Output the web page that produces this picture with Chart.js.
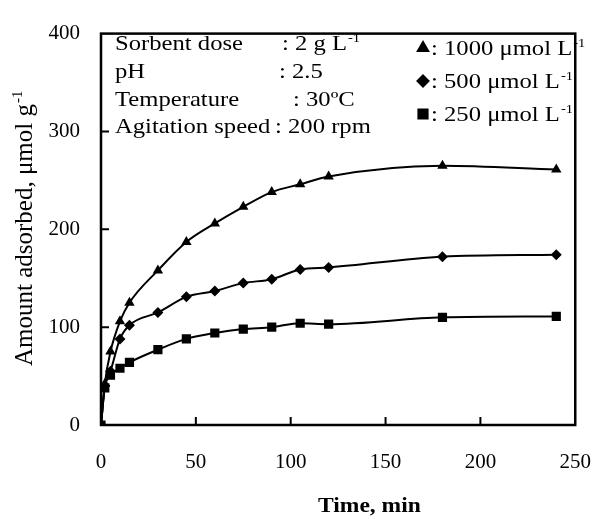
<!DOCTYPE html>
<html>
<head>
<meta charset="UTF-8">
<script src="https://cdn.jsdelivr.net/npm/chart.js"></script>
<style>
  html, body { margin: 0; padding: 0; background: #fff; }
  #wrap { width: 616px; height: 519px; }
</style>
</head>
<body>
<div id="wrap"><canvas id="myChart" width="616" height="519"></canvas></div>
<script>
// contact time, min
var time_min = [0, 2, 5, 10, 15, 30, 45, 60, 75, 90, 105, 120, 180, 240];
// amount adsorbed, umol/g, for each initial concentration
var conc_1000 = [0, 42, 75, 106, 125, 158, 187, 206, 223, 238, 246, 254, 265, 261];
var conc_500 = [0, 40, 55, 88, 102, 115, 131, 137, 145, 149, 159, 161, 172, 174];
var conc_250 = [0, 38, 51, 58, 64, 77, 88, 94, 98, 100, 104, 103, 110, 111];

var x_ticks = [0, 50, 100, 150, 200, 250];
var y_ticks = [0, 100, 200, 300, 400];

var cond_names = ["Sorbent dose", "pH", "Temperature", "Agitation speed"];
var cond_values = ["2 g L", "2.5", "30\u00BAC", "200 rpm"];
var cond_sups = ["-1", "", "", ""];
var series_labels = ["1000 \u03BCmol L", "500 \u03BCmol L", "250 \u03BCmol L"];
var series_markers = ["triangle", "rectRot", "rect"];

var SERIF = "'Liberation Serif', 'Times New Roman', serif";
var STRETCH = 1.12;

function toPoints(ys) {
  var pts = [];
  for (var i = 0; i < time_min.length; i++) {
    pts.push({ x: time_min[i], y: ys[i] });
  }
  return pts;
}

// draws text widened a little, returns x where it ends
function wideText(ctx, txt, x, y, font) {
  ctx.save();
  ctx.font = font;
  ctx.translate(x, y);
  ctx.scale(STRETCH, 1);
  ctx.fillText(txt, 0, 0);
  var w = ctx.measureText(txt).width * STRETCH;
  ctx.restore();
  return x + w;
}

function textWithSup(ctx, txt, sup, x, y, size, bold) {
  var f = (bold ? "bold " : "") + size + "px " + SERIF;
  var end = wideText(ctx, txt, x, y, f);
  if (sup) {
    var fs = Math.round(size * 0.6) + "px " + SERIF;
    end = wideText(ctx, sup, end + 1, y - size * 0.38, fs);
  }
  return end;
}

var markerRadius = { triangle: 6, rectRot: 5.5, rect: 6.5 };

var framePlugin = {
  id: "frame",
  afterDraw: function(chart) {
    var ctx = chart.ctx;
    var a = chart.chartArea;
    var xs = chart.scales.x, ys = chart.scales.y;
    ctx.save();
    ctx.strokeStyle = "#000";
    ctx.fillStyle = "#000";
    ctx.lineWidth = 2.5;
    ctx.strokeRect(a.left, a.top, a.right - a.left, a.bottom - a.top);

    // inward tick marks
    ctx.lineWidth = 2;
    ctx.beginPath();
    for (var i = 1; i < x_ticks.length - 1; i++) {
      var px = xs.getPixelForValue(x_ticks[i]);
      ctx.moveTo(px, a.bottom);
      ctx.lineTo(px, a.bottom - 8);
    }
    for (var j = 1; j < y_ticks.length - 1; j++) {
      var py = ys.getPixelForValue(y_ticks[j]);
      ctx.moveTo(a.left, py);
      ctx.lineTo(a.left + 8, py);
    }
    ctx.stroke();

    // experimental conditions
    ctx.textBaseline = "alphabetic";
    ctx.textAlign = "left";
    var rowY = [50, 78, 106, 133];
    var colonX = [282, 279, 293, 275];
    for (var k = 0; k < cond_names.length; k++) {
      wideText(ctx, cond_names[k], 115, rowY[k], "22px " + SERIF);
      textWithSup(ctx, ": " + cond_values[k], cond_sups[k], colonX[k], rowY[k], 22, false);
    }

    // series key
    var keyY = [55, 88, 121];
    for (var m = 0; m < series_labels.length; m++) {
      Chart.helpers.drawPoint(ctx, {
        pointStyle: series_markers[m],
        radius: markerRadius[series_markers[m]],
        rotation: 0,
        borderWidth: 1
      }, 423, keyY[m] - 7);
      ctx.fill();
      textWithSup(ctx, ": " + series_labels[m], "-1", 431, keyY[m], 22, false);
    }

    // axis titles
    textWithSup(ctx, "Time, min", "", 318, 512, 21, true);
    var yTitle = "Amount adsorbed, \u03BCmol g";
    ctx.font = "25px " + SERIF;
    var tw = ctx.measureText(yTitle).width;
    ctx.save();
    ctx.translate(32, 230 + (tw + 10) / 2);
    ctx.rotate(-Math.PI / 2);
    ctx.fillText(yTitle, 0, 0);
    ctx.font = "15px " + SERIF;
    ctx.fillText("-1", tw + 1, -10);
    ctx.restore();
    ctx.restore();
  }
};

function makeSet(label, ys, style) {
  return {
    label: label,
    data: toPoints(ys),
    showLine: true,
    borderColor: "#000",
    backgroundColor: "#000",
    borderWidth: 2,
    pointStyle: style,
    pointRadius: markerRadius[style],
    pointBorderWidth: 0,
    cubicInterpolationMode: "monotone",
    fill: false
  };
}

var config = {
  type: "scatter",
  data: {
    datasets: [
      makeSet(series_labels[0], conc_1000, "triangle"),
      makeSet(series_labels[1], conc_500, "rectRot"),
      makeSet(series_labels[2], conc_250, "rect")
    ]
  },
  options: {
    responsive: false,
    animation: false,
    events: [],
    layout: { padding: { left: 0, right: 19, top: 22, bottom: 0 } },
    plugins: { legend: { display: false }, tooltip: { enabled: false } },
    scales: {
      x: {
        type: "linear",
        min: 0, max: 250,
        afterFit: function(s) { s.height = 94; },
        afterBuildTicks: function(s) { s.ticks = x_ticks.map(function(v) { return { value: v }; }); },
        grid: { display: false, drawTicks: false },
        border: { display: false },
        ticks: { color: "#000", padding: 25, font: { family: SERIF, size: 21 } }
      },
      y: {
        type: "linear",
        min: 0, max: 400,
        afterFit: function(s) { s.width = 101; },
        afterBuildTicks: function(s) { s.ticks = y_ticks.map(function(v) { return { value: v }; }); },
        grid: { display: false, drawTicks: false },
        border: { display: false },
        ticks: { color: "#000", padding: 21, font: { family: SERIF, size: 21 } }
      }
    }
  },
  plugins: [framePlugin]
};

window.myChart = new Chart(document.getElementById("myChart"), config);
</script>
</body>
</html>
